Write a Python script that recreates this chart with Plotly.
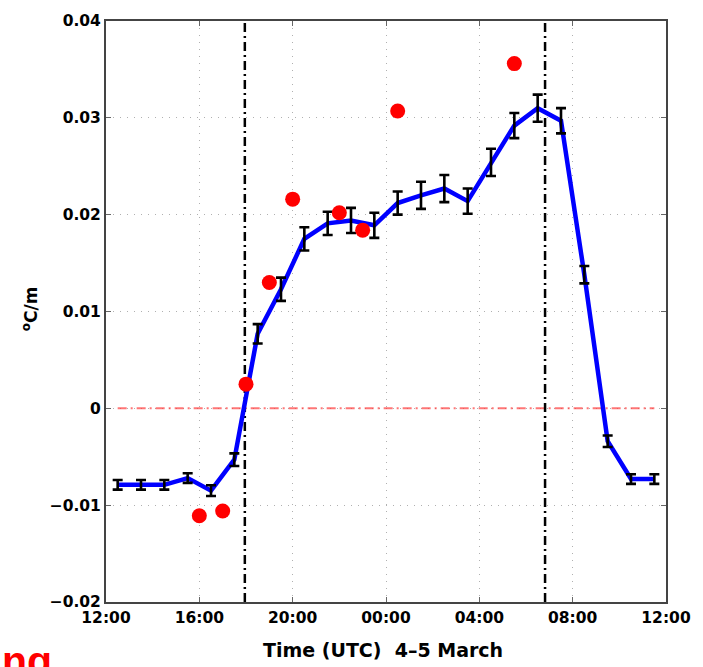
import plotly.graph_objects as go

# ---------------- data ----------------
model_times = ["12:30", "13:30", "14:30", "15:30", "16:30", "17:30", "18:30", "19:30",
               "20:30", "21:30", "22:30", "23:30", "00:30", "01:30", "02:30", "03:30",
               "04:30", "05:30", "06:30", "07:30", "08:30", "09:30", "10:30", "11:30"]
model_values = [-0.0079, -0.0079, -0.0079, -0.0072, -0.0085, -0.0053, 0.0077, 0.0123,
                0.0175, 0.0191, 0.0194, 0.0189, 0.0212, 0.0220, 0.0227, 0.0214,
                0.0254, 0.0292, 0.0310, 0.0297, 0.0138, -0.0034, -0.0073, -0.0073]
model_errors = [0.0005, 0.0005, 0.0005, 0.0005, 0.00055, 0.00065, 0.0010, 0.0012,
                0.0012, 0.0012, 0.0013, 0.0013, 0.0012, 0.0014, 0.0014, 0.0013,
                0.0014, 0.0013, 0.0014, 0.0013, 0.0009, 0.0006, 0.0005, 0.0005]

obs_times = ["16:00", "17:00", "18:00", "19:00", "20:00", "22:00", "23:00", "00:30", "05:30"]
obs_values = [-0.0111, -0.0106, 0.0025, 0.0130, 0.0216, 0.0202, 0.0184, 0.0307, 0.0356]

sunset_time = "17:57"
sunrise_time = "06:49"

tick_labels = ["12:00", "16:00", "20:00", "00:00", "04:00", "08:00", "12:00"]
tick_hours = [0, 4, 8, 12, 16, 20, 24]


def to_offset(t):
    hh, mm = t.split(":")
    return (int(hh) + int(mm) / 60.0 - 12.0) % 24.0


mx = [to_offset(t) for t in model_times]
ox = [to_offset(t) for t in obs_times]
sunset_x = to_offset(sunset_time)
sunrise_x = to_offset(sunrise_time)

FONT = "DejaVu Sans"

fig = go.Figure()

# zero line (red dash-dot)
fig.add_trace(go.Scatter(x=[mx[0], mx[-1]], y=[0, 0], mode="lines",
                         line=dict(color="rgba(255,60,60,0.7)", width=2,
                                   dash="9px,4px,2px,4px"),
                         hoverinfo="skip", showlegend=False))

# sunset / sunrise lines
for vx in (sunset_x, sunrise_x):
    fig.add_trace(go.Scatter(x=[vx, vx], y=[-0.02, 0.04], mode="lines",
                             line=dict(color="black", width=2.5, dash="9px,4px,2px,4px"),
                             hoverinfo="skip", showlegend=False))

# blue model line
fig.add_trace(go.Scatter(x=mx, y=model_values, mode="lines",
                         line=dict(color="#0000ff", width=4.5),
                         showlegend=False))

# error bars on top
fig.add_trace(go.Scatter(x=mx, y=model_values, mode="markers",
                         marker=dict(size=1, color="rgba(0,0,0,0)"),
                         error_y=dict(type="data", array=model_errors, visible=True,
                                      color="black", thickness=2.6, width=5),
                         showlegend=False))

# observations
fig.add_trace(go.Scatter(x=ox, y=obs_values, mode="markers",
                         marker=dict(size=15, color="#ff0000", line=dict(width=0)),
                         showlegend=False))

fig.update_layout(
    width=703, height=667,
    margin=dict(l=106, r=36, t=15, b=65),
    paper_bgcolor="white", plot_bgcolor="white",
    showlegend=False,
    font=dict(family=FONT, size=15.5, color="black"),
)

GRID = dict(showgrid=True, gridcolor="#b0b0b0", griddash="1px,6px", gridwidth=1)

fig.update_xaxes(
    range=[0, 24], tickvals=tick_hours, ticktext=tick_labels,
    zeroline=False,
    showline=True, linecolor="#444", linewidth=2, mirror="ticks",
    ticks="inside", ticklen=5, tickcolor="#666", tickwidth=1,
    tickfont=dict(family=FONT, size=15.5, weight="bold", color="black"),
    **GRID,
)
fig.update_yaxes(
    range=[-0.02, 0.04], tickvals=[-0.02, -0.01, 0, 0.01, 0.02, 0.03, 0.04],
    ticktext=["\u22120.02", "\u22120.01", "0", "0.01", "0.02", "0.03", "0.04"],
    zeroline=False,
    showline=True, linecolor="#444", linewidth=2, mirror="ticks",
    ticks="inside", ticklen=5, tickcolor="#666", tickwidth=1,
    tickfont=dict(family=FONT, size=15.5, weight="bold", color="black"),
    **GRID,
)

# axis titles as annotations
fig.add_annotation(text="Time (UTC)  4\u20135 March", xref="paper", yref="paper",
                   x=(383 - 106) / 561, y=(602 - 651) / 587, xanchor="center", yanchor="middle",
                   showarrow=False, font=dict(family=FONT, size=19, weight="bold", color="black"))
fig.add_annotation(text="<sup>o</sup>C/m", xref="paper", yref="paper",
                   x=(30 - 106) / 561, y=(602 - 306) / 587, xanchor="center", yanchor="middle",
                   textangle=-90, showarrow=False,
                   font=dict(family=FONT, size=17, weight="bold", color="black"))
# clipped red slide text at bottom-left
fig.add_annotation(text="ng", xref="paper", yref="paper",
                   x=(0 - 106) / 561, y=(602 - 636) / 587, xanchor="left", yanchor="top",
                   showarrow=False,
                   font=dict(family="Liberation Sans", size=41, weight="bold", color="#ff0000"))

fig.write_html("out.html")
